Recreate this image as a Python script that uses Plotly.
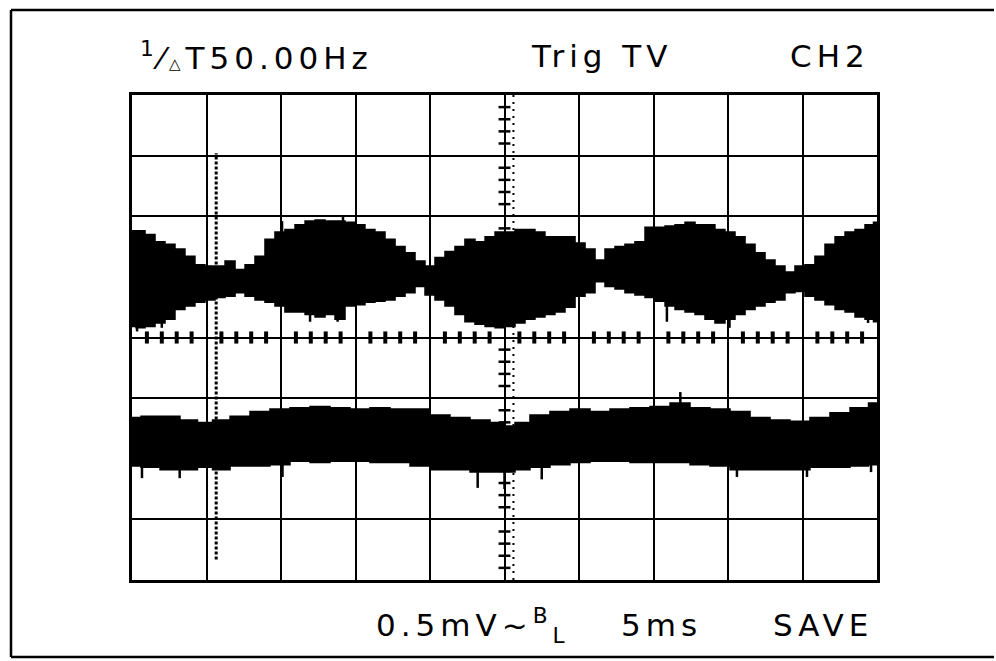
import plotly.graph_objects as go

# ---- scope settings: 10 x 8 divisions, 5 ms/div, 0.5 mV/div ----
t_range = [0, 50]
v_range = [-2, 2]

# ---- channel A (upper trace): envelope of the noisy band, ms / mV ----
t_a = [0.0, 0.54, 1.21, 1.88, 2.55, 3.22, 3.89, 4.56, 5.23, 5.91, 6.58, 7.25, 7.92,
       8.59, 9.26, 9.93, 10.60, 11.28, 11.95, 12.62, 13.29, 13.96, 14.63, 15.30,
       15.97, 16.64, 17.32, 17.99, 18.66, 19.33, 20.00, 20.67, 21.34, 22.01, 22.68,
       23.36, 24.03, 24.70, 25.37, 26.04, 26.71, 27.38, 28.05, 28.72, 29.40, 30.07,
       30.74, 31.41, 32.08, 32.75, 33.42, 34.09, 34.77, 35.44, 36.11, 36.78, 37.45,
       38.12, 38.79, 39.46, 40.13, 40.81, 41.48, 42.15, 42.82, 43.49, 44.16, 44.83,
       45.50, 46.17, 46.85, 47.52, 48.19, 48.86, 49.53, 50.0]
a_top = [0.88, 0.88, 0.85, 0.79, 0.77, 0.73, 0.67, 0.60, 0.59, 0.59, 0.63, 0.56, 0.60,
         0.67, 0.81, 0.87, 0.89, 0.93, 0.96, 0.97, 0.96, 0.96, 0.95, 0.93, 0.89, 0.87,
         0.81, 0.75, 0.70, 0.63, 0.59, 0.66, 0.71, 0.75, 0.81, 0.79, 0.83, 0.87, 0.87,
         0.89, 0.89, 0.87, 0.83, 0.83, 0.83, 0.78, 0.73, 0.64, 0.73, 0.75, 0.77, 0.79,
         0.91, 0.91, 0.92, 0.93, 0.95, 0.93, 0.93, 0.89, 0.87, 0.83, 0.77, 0.70, 0.64,
         0.59, 0.54, 0.59, 0.60, 0.67, 0.77, 0.83, 0.87, 0.89, 0.93, 0.95]
a_bot = [0.09, 0.08, 0.09, 0.12, 0.15, 0.23, 0.26, 0.29, 0.31, 0.33, 0.34, 0.37, 0.34,
         0.31, 0.29, 0.26, 0.21, 0.21, 0.19, 0.17, 0.19, 0.15, 0.26, 0.27, 0.29, 0.30,
         0.31, 0.34, 0.37, 0.42, 0.35, 0.31, 0.26, 0.19, 0.13, 0.11, 0.09, 0.08, 0.09,
         0.12, 0.15, 0.17, 0.19, 0.21, 0.25, 0.34, 0.37, 0.46, 0.42, 0.40, 0.37, 0.35,
         0.33, 0.30, 0.26, 0.23, 0.21, 0.19, 0.15, 0.12, 0.15, 0.19, 0.23, 0.26, 0.29,
         0.31, 0.37, 0.38, 0.34, 0.31, 0.27, 0.23, 0.21, 0.17, 0.15, 0.13]

# ---- channel B (lower trace) ----
t_b = [0.0, 1.21, 2.55, 3.89, 4.90, 5.91, 7.25, 8.59, 9.93, 11.28, 12.62, 13.96,
       15.30, 16.64, 17.99, 19.33, 20.67, 22.01, 23.36, 24.70, 25.37, 26.04, 27.38,
       28.72, 30.07, 31.41, 32.75, 34.09, 35.44, 36.78, 38.12, 39.46, 40.81, 42.15,
       43.49, 44.83, 46.17, 47.52, 48.86, 50.0]
b_top = [-0.66, -0.65, -0.65, -0.68, -0.70, -0.68, -0.65, -0.61, -0.59, -0.58, -0.57,
         -0.58, -0.59, -0.58, -0.59, -0.59, -0.64, -0.66, -0.68, -0.70, -0.73, -0.70,
         -0.64, -0.61, -0.59, -0.61, -0.59, -0.58, -0.57, -0.54, -0.58, -0.59, -0.61,
         -0.66, -0.68, -0.69, -0.66, -0.62, -0.58, -0.54]
b_bot = [-1.06, -1.07, -1.09, -1.09, -1.07, -1.09, -1.06, -1.06, -1.05, -1.02, -1.03,
         -1.02, -1.02, -1.03, -1.03, -1.06, -1.09, -1.09, -1.11, -1.11, -1.11, -1.09,
         -1.07, -1.05, -1.03, -1.02, -1.02, -1.03, -1.03, -1.03, -1.05, -1.06, -1.09,
         -1.09, -1.09, -1.09, -1.07, -1.07, -1.06, -1.05]

# ---- isolated noise spikes beyond the bands: time, band edge, tip (ms, mV) ----
spike_t = [0.34, 2.0, 10.07, 11.95, 13.8, 14.16, 35.9, 40.1, 49.4,
           0.67, 3.2, 10.1, 23.2, 25.0, 27.5, 36.8, 40.6, 45.3, 49.6]
spike_base = [0.09, 0.12, 0.87, 0.19, 0.15, 0.96, 0.26, 0.15, 0.15,
              -1.06, -1.09, -1.05, -1.11, -1.11, -1.07, -0.54, -1.09, -1.09, -1.05]
spike_tip = [0.05, 0.08, 0.96, 0.13, 0.13, 1.00, 0.13, 0.08, 0.12,
             -1.16, -1.16, -1.15, -1.24, -1.25, -1.17, -0.45, -1.15, -1.15, -1.11]

# ---- cursor and readouts ----
cursor_t = 5.65
cursor_v = [-1.83, 1.52]
top_labels = ["<sup>1</sup>⁄<span style='font-size:15px'>△</span>T50.00Hz", "Trig TV", "CH2"]
bottom_labels = ["0.5mV~<sup>B</sup><sub>L</sub>", "5ms", "SAVE"]

W, H = 996, 661
ML, MR, MT, MB = 132, 119, 95, 81
PW, PH = W - ML - MR, H - MT - MB
TEXT_SIZE = 31


def px_x(px):
    return (px - ML) / PW


def px_y(py):
    return (H - MB - py) / PH


def spaced(label):
    """Open up the letter spacing like the scope's character generator."""
    return f"<span style='font-size:{TEXT_SIZE}px;letter-spacing:5px'>" + label + "</span>"


fig = go.Figure()

for tt, top, bot in [(t_a, a_top, a_bot), (t_b, b_top, b_bot)]:
    fig.add_trace(go.Scatter(x=tt, y=top, mode="lines", line=dict(color="black", width=1.5, shape="hvh"),
                             hoverinfo="skip", showlegend=False))
    fig.add_trace(go.Scatter(x=tt, y=bot, mode="lines", line=dict(color="black", width=1.5, shape="hvh"),
                             fill="tonexty", fillcolor="black", hoverinfo="skip", showlegend=False))

xs, ys = [], []
for t, b, p in zip(spike_t, spike_base, spike_tip):
    xs += [t, t, None]
    ys += [b, p, None]
fig.add_trace(go.Scatter(x=xs, y=ys, mode="lines", line=dict(color="black", width=2.5),
                         hoverinfo="skip", showlegend=False))

# graticule centre ticks (1/5 division)
xs, ys = [], []
for i in range(51):
    if i % 5 == 0:
        continue
    xs += [i, i, None]
    ys += [-0.05, 0.05, None]
fig.add_trace(go.Scatter(x=xs, y=ys, mode="lines", line=dict(color="black", width=4),
                         hoverinfo="skip", showlegend=False))
xs, ys = [], []
for i in range(-20, 21):
    if i % 5 == 0:
        continue
    xs += [24.6, 25.4, None]
    ys += [i * 0.1, i * 0.1, None]
fig.add_trace(go.Scatter(x=xs, y=ys, mode="lines", line=dict(color="black", width=2.5),
                         hoverinfo="skip", showlegend=False))
# trigger dots beside the centre line
fig.add_trace(go.Scatter(x=[25.6, 25.6], y=[-2, 2], mode="lines",
                         line=dict(color="black", width=2, dash="2px,5px"),
                         hoverinfo="skip", showlegend=False))
# measurement cursor
fig.add_trace(go.Scatter(x=[cursor_t, cursor_t], y=cursor_v, mode="lines",
                         line=dict(color="black", width=3, dash="3px,2px"),
                         hoverinfo="skip", showlegend=False))

axis_common = dict(showgrid=True, gridcolor="black", gridwidth=2, zeroline=False,
                   showticklabels=False, ticks="", showline=True, linecolor="black",
                   linewidth=3, mirror=True, fixedrange=True)
fig.update_xaxes(range=t_range, dtick=5, tick0=0, **axis_common)
fig.update_yaxes(range=v_range, dtick=0.5, tick0=0, **axis_common)

# outer frame (left, top, bottom edges)
frame = dict(type="line", xref="paper", yref="paper", line=dict(color="black", width=2.5))
fig.add_shape(x0=px_x(11), x1=px_x(11), y0=px_y(10), y1=px_y(657), **frame)
fig.add_shape(x0=px_x(11), x1=px_x(994), y0=px_y(10), y1=px_y(10), **frame)
fig.add_shape(x0=px_x(11), x1=px_x(994), y0=px_y(657), y1=px_y(657), **frame)

font = dict(family="DejaVu Sans", size=TEXT_SIZE, color="black")
for txt, px in zip(top_labels, [138, 529, 788]):
    fig.add_annotation(text=spaced(txt), x=px_x(px), y=px_y(56), xref="paper", yref="paper",
                       xanchor="left", yanchor="middle", showarrow=False, font=font)
for txt, px in zip(bottom_labels, [374, 619, 771]):
    fig.add_annotation(text=spaced(txt), x=px_x(px), y=px_y(625), xref="paper", yref="paper",
                       xanchor="left", yanchor="middle", showarrow=False, font=font)

fig.update_layout(width=W, height=H, margin=dict(l=ML, r=MR, t=MT, b=MB),
                  paper_bgcolor="white", plot_bgcolor="white")
fig.write_html("out.html")
